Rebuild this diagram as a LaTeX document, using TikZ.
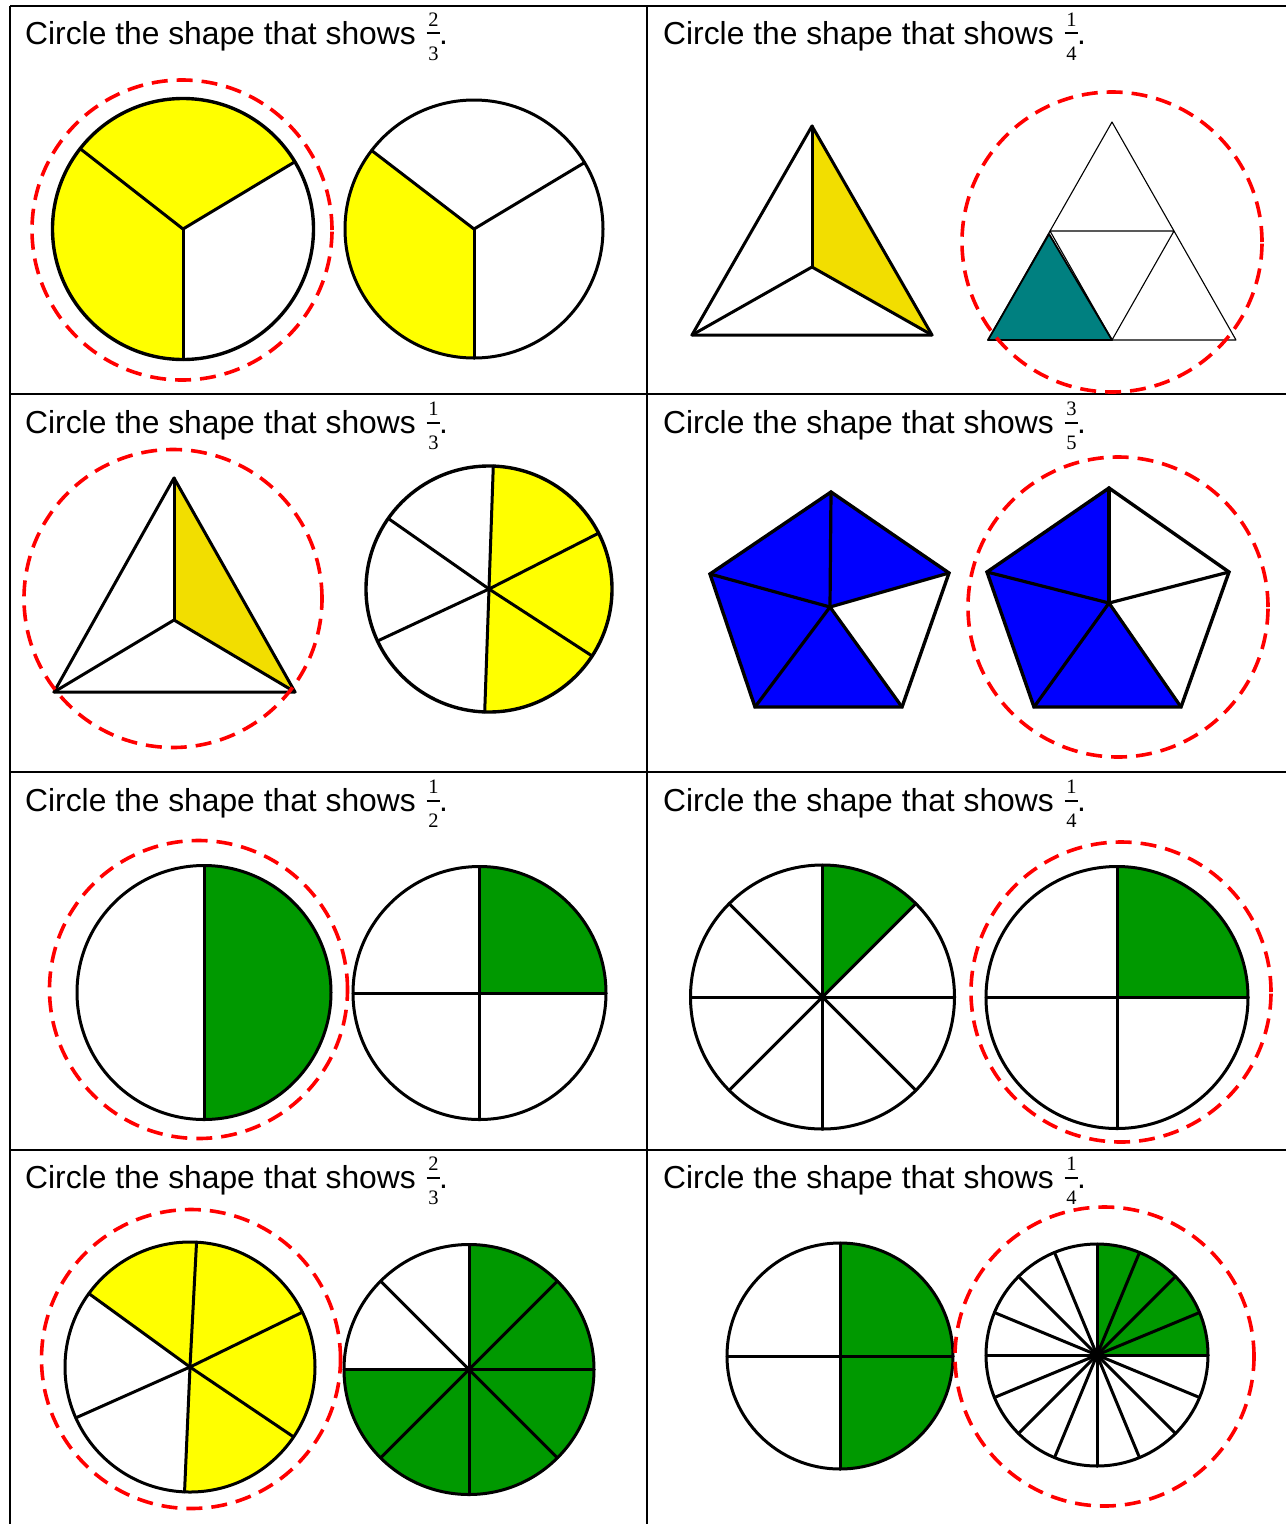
\documentclass[tikz,border=0pt]{standalone}
\usepackage{fontspec}
\setmainfont{Liberation Sans}
\newfontfamily\fracfont{Liberation Serif}
\definecolor{yel}{RGB}{255,255,0}
\definecolor{gold}{RGB}{242,222,0}
\definecolor{grn}{RGB}{0,153,0}
\definecolor{blu}{RGB}{0,0,255}
\definecolor{tealc}{RGB}{0,128,128}
\definecolor{rd}{RGB}{255,0,0}
\tikzset{
  gridline/.style={line width=2.5pt, black},
  ttl/.style={inner sep=0pt, font=\fontsize{31.8}{36}\selectfont},
  frc/.style={inner sep=0pt, font=\fracfont\fontsize{20.5}{22}\selectfont},
  fbar/.style={line width=2.2pt},
  edge/.style={line width=3pt, line join=round, line cap=round},
  thinedge/.style={line width=1.1pt, line join=round},
  answer/.style={draw=rd, line width=3.6pt, dash pattern=on 16pt off 9pt},
}
\newcommand\qtitle[5]{%
  \node[ttl, anchor=base west] (#1) at (#2,#3) {Circle the shape that shows};
  \node[frc] (#1n) at ({#2+408.5},{#3+24.5}) {#4};
  \draw[fbar] ({#2+401.7},{#3+10.7}) -- ({#2+415},{#3+10.7});
  \node[frc] (#1d) at ({#2+408.5},{#3-9.5}) {#5};
  \node[ttl, anchor=base west] (#1p) at ({#2+414},{#3}) {.};
}
\newcommand\pwedge[6]{\fill[#6] (#1,#2) -- ++(#4:#3) arc[start angle=#4, end angle=#5, radius=#3] -- cycle;}
\newcommand\pspokes[4]{\foreach \a in {#4} {\draw[edge] (#1,#2) -- ++(\a:#3);}}
\newcommand\prim[3]{\draw[edge] (#1,#2) circle[radius=#3];}
\begin{document}
\begin{tikzpicture}[x=1pt,y=1pt]
\useasboundingbox (0,0) rectangle (1286,-1524);
\fill[white] (0,0) rectangle (1286,-1524);

% grid
\draw[gridline] (10,-6) -- (1286,-6);
\draw[gridline] (10,-6) -- (10,-1524);
\draw[gridline] (647,-6) -- (647,-1524);
\draw[gridline] (10,-394) -- (1286,-394);
\draw[gridline] (10,-772) -- (1286,-772);
\draw[gridline] (10,-1150) -- (1286,-1150);

% titles
\qtitle{t1}{25}{-44}{2}{3}
\qtitle{t2}{663}{-44}{1}{4}
\qtitle{t3}{25}{-433.3}{1}{3}
\qtitle{t4}{663}{-433.3}{3}{5}
\qtitle{t5}{25}{-811.7}{1}{2}
\qtitle{t6}{663}{-811.7}{1}{4}
\qtitle{t7}{25}{-1188.3}{2}{3}
\qtitle{t8}{663}{-1188.3}{1}{4}

% ---------- panel 1 ----------
\pwedge{183}{-229}{130.5}{31}{142}{yel}
\pwedge{183}{-229}{130.5}{142}{270}{yel}
\pspokes{183}{-229}{130.5}{31,142,270}
\draw[edge, line width=3.4pt] (183,-229) circle[radius=130.5];
\draw[answer] (182,-230) circle[radius=150];

\pwedge{474}{-229}{129}{142.5}{270}{yel}
\pspokes{474}{-229}{129}{31,142.5,270}
\prim{474}{-229}{129}

% ---------- panel 2 ----------
\fill[gold] (812,-126) -- (932,-335) -- (812,-267) -- cycle;
\draw[edge] (812,-126) -- (692,-335) -- (932,-335) -- cycle;
\draw[edge] (812,-267) -- (812,-126);
\draw[edge] (812,-267) -- (692,-335);
\draw[edge] (812,-267) -- (932,-335);

\fill[tealc] (988,-340) -- (1049,-234) -- (1112,-340) -- cycle;
\draw[thinedge] (1112,-122) -- (988,-340) -- (1236,-340) -- cycle;
\draw[thinedge] (1050,-231) -- (1174,-231) -- (1112,-340) -- cycle;
\draw[line width=1.8pt, line join=round] (988,-340) -- (1049,-234) -- (1112,-340) -- cycle;
\draw[answer] (1112,-242) circle[radius=150];

% ---------- panel 3 ----------
\fill[gold] (174,-478) -- (295,-692) -- (174,-620) -- cycle;
\draw[edge] (174,-478) -- (54,-692) -- (295,-692) -- cycle;
\draw[edge] (174,-620) -- (174,-478);
\draw[edge] (174,-620) -- (54,-692);
\draw[edge] (174,-620) -- (295,-692);
\draw[answer] (173,-598.5) circle[radius=149];

\pwedge{489}{-589}{123}{-92}{88}{yel}
\pspokes{489}{-589}{123}{88,27,-33,-92,205,145}
\draw[edge, line width=3.4pt] (489,-589) circle[radius=123];

% ---------- panel 4 ----------
\fill[blu] (831,-492) -- (949,-573) -- (830,-607) -- (710,-574) -- cycle;
\fill[blu] (710,-574) -- (830,-607) -- (902,-707) -- (755,-707) -- cycle;
\draw[edge, line width=3.4pt, line join=miter] (831,-492) -- (949,-573) -- (902,-707) -- (755,-707) -- (710,-574) -- cycle;
\foreach \p in {(831,-492),(949,-573),(902,-707),(755,-707),(710,-574)}
  {\draw[edge, line width=3.2pt] (830,-607) -- \p;}

\fill[blu] (1109,-488) -- (1109,-603) -- (1181,-707) -- (1034,-707) -- (987,-572) -- cycle;
\draw[edge, line width=3.4pt, line join=miter] (1109,-488) -- (1229,-572) -- (1181,-707) -- (1034,-707) -- (987,-572) -- cycle;
\foreach \p in {(1109,-488),(1229,-572),(1181,-707),(1034,-707),(987,-572)}
  {\draw[edge, line width=3.2pt] (1109,-603) -- \p;}
\draw[answer] (1118,-607) circle[radius=150];

% ---------- panel 5 ----------
\pwedge{204}{-992.5}{127}{-90}{90}{grn}
\pspokes{204}{-992.5}{127}{90,270}
\prim{204}{-992.5}{127}
\draw[answer] (198.5,-989.5) circle[radius=149];

\pwedge{479.5}{-993}{126.5}{0}{90}{grn}
\pspokes{479.5}{-993}{126.5}{0,90,180,270}
\prim{479.5}{-993}{126.5}

% ---------- panel 6 ----------
\pwedge{822.5}{-997}{132}{45}{90}{grn}
\pspokes{822.5}{-997}{132}{0,45,...,315}
\prim{822.5}{-997}{132}

\pwedge{1117}{-997.5}{131}{0}{90}{grn}
\pspokes{1117}{-997.5}{131}{0,90,180,270}
\prim{1117}{-997.5}{131}
\draw[answer] (1121,-992) circle[radius=150];

% ---------- panel 7 ----------
\pwedge{190}{-1367}{125}{-92.5}{144}{yel}
\pspokes{190}{-1367}{125}{87,26,-34,-92.5,204,144}
\prim{190}{-1367}{125}
\draw[answer] (191,-1359) circle[radius=149.5];

\pwedge{469}{-1369.5}{125}{180}{450}{grn}
\pspokes{469}{-1369.5}{125}{0,45,...,315}
\prim{469}{-1369.5}{125}

% ---------- panel 8 ----------
\pwedge{840}{-1356}{113}{-90}{90}{grn}
\pspokes{840}{-1356}{113}{0,90,180,270}
\prim{840}{-1356}{113}

\pwedge{1097}{-1355}{111}{0}{90}{grn}
\pspokes{1097}{-1355}{111}{0,22.5,...,337.5}
\prim{1097}{-1355}{111}
\draw[answer] (1104.5,-1356.5) circle[radius=149.5];
\end{tikzpicture}
\end{document}
